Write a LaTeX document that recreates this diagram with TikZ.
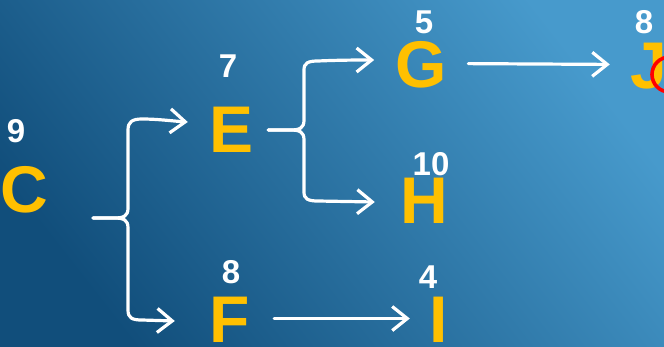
\documentclass[tikz,border=0pt]{standalone}
\usepackage{fontspec}
\setmainfont{Liberation Sans}
\usetikzlibrary{arrows.meta,calc}
\definecolor{gold}{HTML}{FFC000}
\definecolor{bgdark}{HTML}{114E7B}
\definecolor{bglight}{HTML}{479ACC}
\begin{document}
\begin{tikzpicture}[x=1pt, y=-1pt,
  letter/.style={font=\fontsize{66}{66}\selectfont\bfseries, text=gold,
    inner sep=0pt, minimum width=50pt, text height=47pt, text depth=0pt, anchor=base},
  num/.style={font=\fontsize{33}{33}\selectfont\bfseries, text=white,
    inner sep=0pt, anchor=base},
  link/.style={draw=white, line width=3.2pt, line cap=round, line join=round},
  arr/.style={link, -{Straight Barb[length=15pt,width=24pt]}}]

% canvas and background
\useasboundingbox (0,0) rectangle (664,346);
\clip (0,0) rectangle (664,346);
\shade[bottom color=bgdark, top color=bglight, shading angle=-52]
  (0,0) rectangle (664,346);

% letters
\node[letter] (C) at (24,212)  {C};
\node[letter] (E) at (231.5,152) {E};
\node[letter] (F) at (229.5,342) {F};
\node[letter] (G) at (421.5,87) {G};
\node[letter] (H) at (424,223) {H};
\node[letter] (I) at (439,342) {I};
\node[letter] (J) at (649,88)  {J};

% values above the letters
\node[num] (nC) at (16,142)  {9};
\node[num] (nE) at (228,77)  {7};
\node[num] (nF) at (231,283) {8};
\node[num] (nG) at (424,33)  {5};
\node[num] (nH) at (431,175) {10};
\node[num] (nI) at (428,288) {4};
\node[num] (nJ) at (644,33)  {8};

% red ring over J
\node[draw=red, line width=3.6pt, circle, minimum size=35pt, inner sep=0pt] (mark) at (669.5,74.5) {};

% brace from C to E and F
\coordinate (cstub) at (93,218);
\coordinate (tipE) at ($(E.west)+(-18.5,-6.5)$);
\coordinate (tipF) at ($(F.west)+(-29.5,2.5)$);
\draw[arr] (cstub) -- (114,218) .. controls (124,218) and (128,216) .. (128,208)
  -- (128,130) .. controls (128,122) and (132,119) .. (142,119)
  .. controls (158,119) and (172,121) .. (tipE);
\draw[arr] (cstub) -- (114,218) .. controls (124,218) and (128,220) .. (128,228)
  -- (128,310) .. controls (128,318) and (132,320) .. (142,320) -- (tipF);

% brace from E to G and H
\coordinate (estub) at ($(E.east)+(11.5,1.5)$);
\coordinate (tipG) at ($(G.west)+(-21.5,-3.5)$);
\coordinate (tipH) at ($(H.west)+(-24,2.5)$);
\draw[arr] (estub) -- (290,130) .. controls (300,130) and (304,128) .. (304,120)
  -- (304,70) .. controls (304,63) and (308,61) .. (318,61)
  .. controls (340,60) and (360,60) .. (tipG);
\draw[arr] (estub) -- (290,130) .. controls (300,130) and (304,132) .. (304,140)
  -- (304,192) .. controls (304,199) and (308,201) .. (318,201) -- (tipH);

% straight links
\draw[arr, shorten <=21pt, shorten >=14pt] (G.east) -- (J.west);
\draw[arr, shorten <=19.5pt, shorten >=4pt] (F.east) -- (I.west);
\end{tikzpicture}
\end{document}
